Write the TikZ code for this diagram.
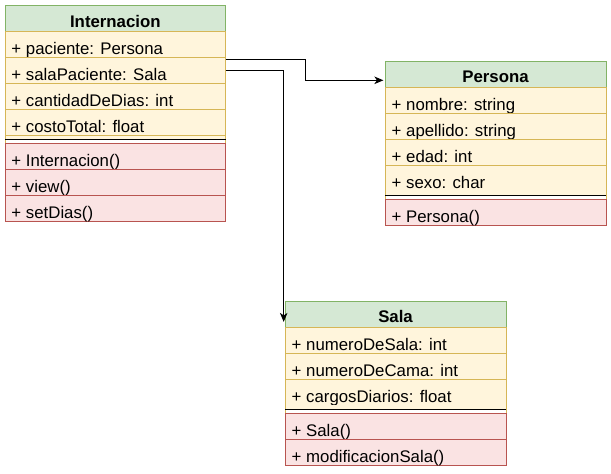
\documentclass[tikz,border=0pt]{standalone}
\usepackage{fontspec}
\setmainfont{Liberation Sans}
\usetikzlibrary{arrows.meta,calc}
\definecolor{hdfill}{HTML}{D5E8D4}
\definecolor{hddraw}{HTML}{82B366}
\definecolor{atfill}{HTML}{FFF5DC}
\definecolor{atdraw}{HTML}{D6B656}
\definecolor{mtfill}{HTML}{FAE3E3}
\definecolor{mtdraw}{HTML}{B85450}
\tikzset{
  cell/.style={rectangle, minimum width=220.7pt, minimum height=26pt, inner sep=0pt, outer sep=0pt, anchor=north west, line width=0.8pt},
  head/.style={cell, fill=hdfill, draw=hddraw},
  attr/.style={cell, fill=atfill, draw=atdraw},
  meth/.style={cell, fill=mtfill, draw=mtdraw},
  sepbox/.style={cell, minimum height=8pt, fill=white},
  txt/.style={anchor=base west, inner sep=0pt, font=\fontsize{16.8}{20}\selectfont},
  htxt/.style={anchor=base, inner sep=0pt, font=\fontsize{16.8}{20}\selectfont\bfseries},
  conn/.style={line width=1pt, -{Stealth[length=9pt,width=7.5pt,inset=2.5pt]}},
}
% name, x, y, title, number of attributes, attributes, methods
\newcommand\umlklass[7]{%
  \node[head] (#1-h) at (#2pt,-#3pt) {};
  \node[htxt] (#1-ht) at ($(#1-h.south)+(0,4.3pt)$) {#4};
  \foreach \t [count=\i] in {#6} {
    \node[attr, yshift={-26pt*(\i-1)}] (#1-a\i) at (#1-h.south west) {};
    \node[txt] (#1-at\i) at ($(#1-a\i.south west)+(6.3pt,3pt)$) {\t};
  }
  \node[sepbox, yshift={-26pt*#5}] (#1-s) at (#1-h.south west) {};
  \fill[atfill] (#1-s.north west) rectangle ($(#1-s.east)+(0,0.3pt)$);
  \draw[atdraw, line width=0.8pt] (#1-s.north west) -- (#1-s.south west)
    (#1-s.north east) -- (#1-s.south east);
  \draw[line width=1.3pt] (#1-s.west) -- (#1-s.east);
  \foreach \t [count=\i] in {#7} {
    \node[meth, yshift={-26pt*(\i-1)}] (#1-m\i) at (#1-s.south west) {};
    \node[txt] (#1-mt\i) at ($(#1-m\i.south west)+(6.3pt,3pt)$) {\t};
  }
}
\begin{document}
\begin{tikzpicture}
  \useasboundingbox (0,0) rectangle (611pt,-474pt);
  \umlklass{int}{5}{5.5}{Internacion}{4}%
    {+ paciente: Persona, + salaPaciente: Sala, + cantidadDeDias: int, + costoTotal: float}%
    {+ Internacion(), + view(), + setDias()}
  \umlklass{per}{385.2}{61.2}{Persona}{4}%
    {+ nombre: string, + apellido: string, + edad: int, + sexo: char}%
    {+ Persona()}
  \umlklass{sal}{285.2}{301.2}{Sala}{3}%
    {+ numeroDeSala: int, + numeroDeCama: int, + cargosDiarios: float}%
    {+ Sala(), + modificacionSala()}
  \coordinate (c1s) at ($(int-a2.north east)+(0,-2.4pt)$);
  \coordinate (c1m) at ($(c1s)+(79.6pt,0)$);
  \coordinate (c1e) at ($(per-h.west)+(-1.8pt,-6.1pt)$);
  \coordinate (c2s) at ($(int-a2.north east)+(0,-13.2pt)$);
  \coordinate (c2e) at ($(sal-h.west)+(-1.5pt,-7.7pt)$);
  \draw[conn] (c1s) -- (c1m) |- (c1e);
  \draw[conn] (c2s) -| (c2e);
\end{tikzpicture}
\end{document}
